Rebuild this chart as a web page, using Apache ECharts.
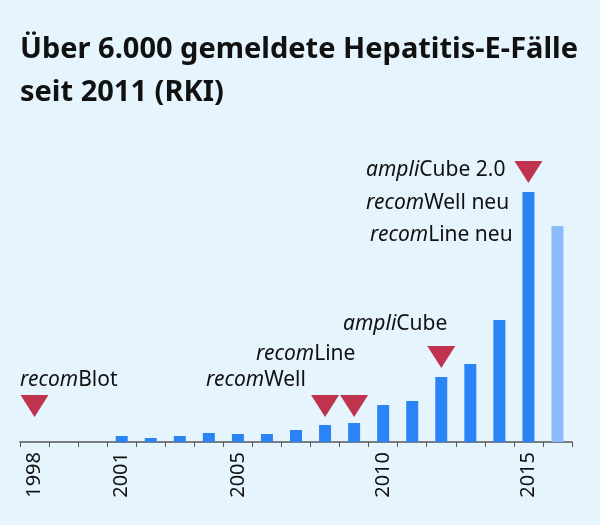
<!DOCTYPE html>
<html><head><meta charset="utf-8">
<script src="https://cdn.jsdelivr.net/npm/echarts@6/dist/echarts.min.js"></script>
<style>html,body{margin:0;padding:0;background:#e6f4fd}#c{width:600px;height:525px}</style>
</head><body><div id="c"></div>
<script>
var years = ['1998','1999','2000','2001','2002','2003','2004','2005','2006','2007','2008','2009','2010','2011','2012','2013','2014','2015','2016'];
var cases = [0,0,0,30,20,30,45,40,40,60,85,95,185,205,325,390,610,1250,1080];
var markerYears = ['1998','2008','2009','2012','2015'];
var markerLevels = [180,180,180,425,1350];

var chart = echarts.init(document.getElementById('c'));
var font = '"Noto Sans", "Open Sans", sans-serif';
function txt(x, y, italic, rest) {
  return {type:'text', x:x, y:y, style:{
    text:'{i|'+italic+'}'+rest, fill:'#111',
    font:'21px '+font,
    rich:{i:{fontStyle:'italic', fontSize:21, fontFamily:font, fill:'#111'}}
  }};
}
chart.setOption({
  backgroundColor:'#e6f4fd',
  grid:{left:20, right:28, top:142, bottom:83},
  graphic:[
    {type:'text', left:20, top:28, style:{text:'Über 6.000 gemeldete Hepatitis-E-Fälle\nseit 2011 (RKI)', font:'bold 29px '+font, fill:'#111', lineHeight:43}},
    txt(20, 370, 'recom', 'Blot'),
    txt(206, 370, 'recom', 'Well'),
    txt(256, 344, 'recom', 'Line'),
    txt(343, 314, 'ampli', 'Cube'),
    txt(366, 160, 'ampli', 'Cube 2.0'),
    txt(366, 193, 'recom', 'Well neu'),
    txt(370, 225, 'recom', 'Line neu')
  ],
  xAxis:{type:'category', data:years, boundaryGap:true,
    axisLine:{lineStyle:{color:'#555', width:1.5}},
    axisTick:{show:true, length:5, lineStyle:{color:'#555'}},
    axisLabel:{rotate:90, fontSize:20, color:'#111', fontFamily:font, margin:10,
      interval:0, formatter:function(v){return ['1998','2001','2005','2010','2015'].indexOf(v)>=0?v:'';}}},
  yAxis:{type:'value', min:0, max:1500, show:false, splitLine:{show:false}},
  series:[
    {type:'bar', barWidth:12, data:cases.map(function(v,i){
      return {value:v, itemStyle:{color: years[i]==='2016' ? '#8bbcfa' : '#2b84f5'}};
    })},
    {type:'scatter', symbol:'triangle', symbolRotate:180, symbolSize:[28,22],
      itemStyle:{color:'#c0334f', opacity:1}, z:5,
      data:markerYears.map(function(y,i){return [y, markerLevels[i]];})}
  ]
});
</script></body></html>
